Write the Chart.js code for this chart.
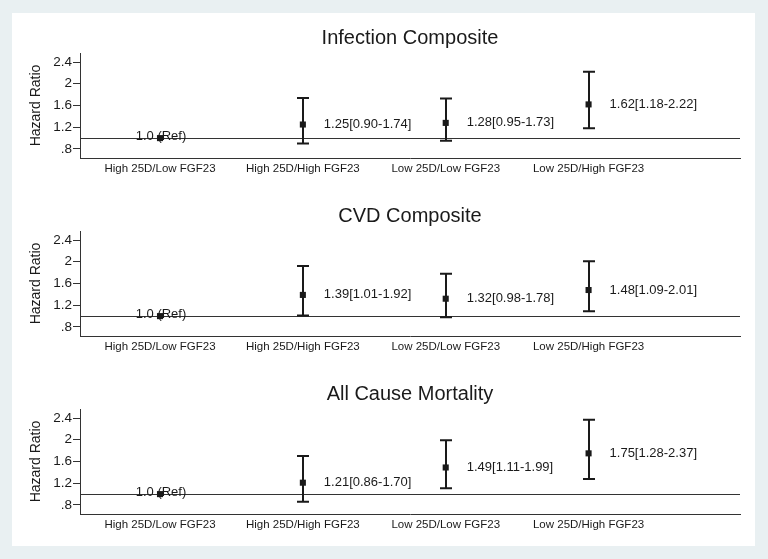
<!DOCTYPE html>
<html>
<head>
<meta charset="utf-8">
<script src="https://cdn.jsdelivr.net/npm/chart.js@4.4.1/dist/chart.umd.min.js"></script>
<style>
  html, body { margin: 0; padding: 0; }
  body { width: 768px; height: 559px; background: #e9f0f2; position: relative; overflow: hidden; }
  #panel { position: absolute; left: 12px; top: 13px; width: 743px; height: 533px; background: #fff; }
  canvas { position: absolute; left: 0; }
</style>
</head>
<body>
<div id="panel"></div>
<canvas id="infectionChart" width="768" height="178" style="top:0px"></canvas>
<canvas id="cvdChart" width="768" height="178" style="top:178px"></canvas>
<canvas id="mortalityChart" width="768" height="178" style="top:356px"></canvas>
<script>
const categories = ['High 25D/Low FGF23', 'High 25D/High FGF23', 'Low 25D/Low FGF23', 'Low 25D/High FGF23'];
const yTickValues = [0.8, 1.2, 1.6, 2, 2.4];
const yTickLabels = ['.8', '1.2', '1.6', '2', '2.4'];
const refValue = 1;

// Infection Composite
const infectionHR = [1.0, 1.25, 1.28, 1.62];
const infectionLow = [null, 0.90, 0.95, 1.18];
const infectionHigh = [null, 1.74, 1.73, 2.22];
const infectionText = ['1.0 (Ref)', '1.25[0.90-1.74]', '1.28[0.95-1.73]', '1.62[1.18-2.22]'];

// CVD Composite
const cvdHR = [1.0, 1.39, 1.32, 1.48];
const cvdLow = [null, 1.01, 0.98, 1.09];
const cvdHigh = [null, 1.92, 1.78, 2.01];
const cvdText = ['1.0 (Ref)', '1.39[1.01-1.92]', '1.32[0.98-1.78]', '1.48[1.09-2.01]'];

// All Cause Mortality
const mortalityHR = [1.0, 1.21, 1.49, 1.75];
const mortalityLow = [null, 0.86, 1.11, 1.28];
const mortalityHigh = [null, 1.70, 1.99, 2.37];
const mortalityText = ['1.0 (Ref)', '1.21[0.86-1.70]', '1.49[1.11-1.99]', '1.75[1.28-2.37]'];

const FONT = "'Liberation Sans', Arial, sans-serif";
const INK = '#1a1a1a';

// draws reference line, CI whiskers and value labels
const forestPlot = {
    id: 'forestPlot',
    beforeDatasetsDraw(chart, args, opts) {
        const { ctx, chartArea, scales: { x, y } } = chart;
        ctx.save();
        const yRef = Math.round(y.getPixelForValue(opts.refValue)) + 0.5;
        ctx.strokeStyle = '#333';
        ctx.lineWidth = 1;
        ctx.beginPath();
        ctx.moveTo(chartArea.left, yRef);
        ctx.lineTo(chartArea.right, yRef);
        ctx.stroke();

        ctx.strokeStyle = INK;
        ctx.lineWidth = 2;
        opts.low.forEach(function(lo, i) {
            const hi = opts.high[i];
            if (lo == null || hi == null) return;
            const px = Math.round(x.getPixelForValue(i + 1));
            const yLo = y.getPixelForValue(lo);
            const yHi = y.getPixelForValue(hi);
            ctx.beginPath();
            ctx.moveTo(px, yLo);
            ctx.lineTo(px, yHi);
            ctx.moveTo(px - 6, yLo);
            ctx.lineTo(px + 6, yLo);
            ctx.moveTo(px - 6, yHi);
            ctx.lineTo(px + 6, yHi);
            ctx.stroke();
        });
        ctx.restore();
    },
    afterDatasetsDraw(chart, args, opts) {
        const { ctx, scales: { x, y } } = chart;
        ctx.save();
        ctx.font = '13px ' + FONT;
        ctx.fillStyle = INK;
        opts.text.forEach(function(t, i) {
            const px = x.getPixelForValue(i + 1);
            const py = y.getPixelForValue(opts.hr[i]);
            if (opts.low[i] == null) {
                ctx.textAlign = 'center';
                ctx.textBaseline = 'alphabetic';
                ctx.fillText(t, px + 1, py + 2);
            } else {
                ctx.textAlign = 'left';
                ctx.textBaseline = 'middle';
                ctx.fillText(t, px + 21, py);
            }
        });
        ctx.restore();
    }
};

function makePanel(id, title, hr, low, high, text) {
    const ctx = document.getElementById(id).getContext('2d');
    return new Chart(ctx, {
        type: 'scatter',
        data: {
            datasets: [{
                data: hr.map(function(v, i) { return { x: i + 1, y: v }; }),
                pointStyle: 'rect',
                pointRadius: 4.3,
                backgroundColor: INK,
                borderColor: INK,
                borderWidth: 0
            }]
        },
        plugins: [forestPlot],
        options: {
            responsive: false,
            animation: false,
            layout: { padding: { left: 0, right: 28, top: 0, bottom: 0 } },
            scales: {
                x: {
                    type: 'linear',
                    min: 0.44,
                    max: 5.06,
                    afterBuildTicks: function(scale) {
                        scale.ticks = categories.map(function(c, i) { return { value: i + 1 }; });
                    },
                    afterFit: function(scale) { scale.height = 20; },
                    grid: { display: false, drawTicks: false },
                    border: { display: true, color: '#333', width: 1 },
                    ticks: {
                        autoSkip: false,
                        maxRotation: 0,
                        padding: 4,
                        color: INK,
                        font: { family: FONT, size: 11.5 },
                        callback: function(v) { return categories[v - 1]; }
                    }
                },
                y: {
                    min: 0.634,
                    max: 2.566,
                    afterBuildTicks: function(scale) {
                        scale.ticks = yTickValues.map(function(v) { return { value: v }; });
                    },
                    afterFit: function(scale) { scale.width = 80; },
                    grid: { display: true, drawOnChartArea: false, tickLength: 7, color: '#333', tickWidth: 1 },
                    border: { display: true, color: '#333', width: 1 },
                    ticks: {
                        padding: 1,
                        color: INK,
                        font: { family: FONT, size: 13.5 },
                        callback: function(v, i) { return yTickLabels[i]; }
                    },
                    title: {
                        display: true,
                        text: 'Hazard Ratio',
                        color: INK,
                        font: { family: FONT, size: 14 },
                        padding: { top: 28, bottom: 0 }
                    }
                }
            },
            plugins: {
                legend: { display: false },
                tooltip: { enabled: false },
                title: {
                    display: true,
                    text: title,
                    fullSize: false,
                    color: INK,
                    font: { family: FONT, size: 20, weight: 'normal' },
                    padding: { top: 26, bottom: 3 }
                },
                forestPlot: { refValue: refValue, hr: hr, low: low, high: high, text: text }
            }
        }
    });
}

makePanel('infectionChart', 'Infection Composite', infectionHR, infectionLow, infectionHigh, infectionText);
makePanel('cvdChart', 'CVD Composite', cvdHR, cvdLow, cvdHigh, cvdText);
makePanel('mortalityChart', 'All Cause Mortality', mortalityHR, mortalityLow, mortalityHigh, mortalityText);
</script>
</body>
</html>
